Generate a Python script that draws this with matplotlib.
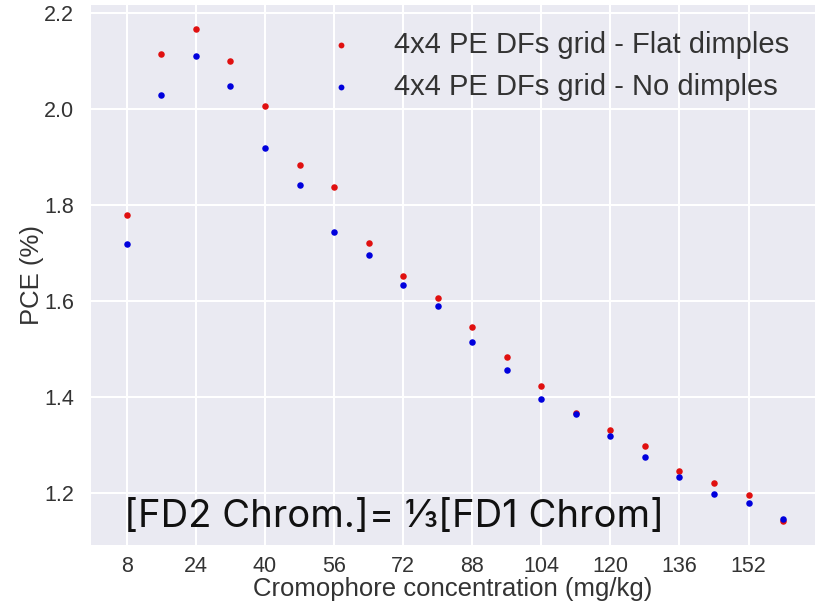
import matplotlib
matplotlib.use("Agg")
import matplotlib.pyplot as plt
from matplotlib import font_manager

conc = [8, 16, 24, 32, 40, 48, 56, 64, 72, 80, 88, 96, 104, 112, 120, 128, 136, 144, 152, 160]
flat_dimples = [1.779, 2.115, 2.167, 2.100, 2.006, 1.883, 1.837, 1.721, 1.652, 1.606,
                1.546, 1.483, 1.423, 1.367, 1.331, 1.298, 1.246, 1.221, 1.196, 1.142]
no_dimples = [1.719, 2.029, 2.110, 2.048, 1.919, 1.842, 1.744, 1.696, 1.633, 1.590,
              1.515, 1.456, 1.396, 1.365, 1.319, 1.275, 1.233, 1.198, 1.179, 1.146]
xticks = [8, 24, 40, 56, 72, 88, 104, 120, 136, 152]
yticks = [1.2, 1.4, 1.6, 1.8, 2.0, 2.2]
label_flat = "4x4 PE DFs grid - Flat dimples"
label_no = "4x4 PE DFs grid - No dimples"
annotation = "[FD2 Chrom.]= \u2153[FD1 Chrom]"

plt.rcParams['font.family'] = ['Liberation Sans', 'DejaVu Sans']

names = {f.name for f in font_manager.fontManager.ttflist}
tick_family = ['Liberation Sans Narrow', 'Liberation Sans'] if 'Liberation Sans Narrow' in names else ['Liberation Sans']
tick_size = 16.5 if 'Liberation Sans Narrow' in names else 15.5

fig = plt.figure(figsize=(8.15, 6.07), dpi=100)
ax = fig.add_axes([91/815, 62/607, 1 - 91/815, (545 - 5)/607])
ax.set_facecolor('#EAEAF2')
for s in ax.spines.values():
    s.set_visible(False)
ax.grid(True, color='white', linewidth=1.5)
ax.set_axisbelow(True)

ax.scatter(conc, flat_dimples, s=22, color='#e01010', label=label_flat, zorder=3, linewidths=0)
ax.scatter(conc, no_dimples, s=22, color='#0000dd', label=label_no, zorder=3, linewidths=0)

ax.set_xlim(-0.3, 167.4)
ax.set_ylim(1.092, 2.217)
ax.set_xticks(xticks)
ax.set_xticklabels([str(t) for t in xticks])
ax.set_yticks(yticks)
ax.set_yticklabels([f"{t:.1f}" for t in yticks])
ax.tick_params(axis='both', length=0, labelcolor='#333333')
ax.tick_params(axis='x', pad=8)
ax.tick_params(axis='y', pad=12)
for lab in ax.get_xticklabels() + ax.get_yticklabels():
    lab.set_family(tick_family)
    lab.set_fontsize(tick_size)
ax.set_xlabel("Cromophore concentration (mg/kg)", fontsize=18.5, color='#333333', labelpad=0)
ax.set_ylabel("PCE (%)", fontsize=18.5, color='#333333', labelpad=0)

leg = ax.legend(loc='upper right', fontsize=21, frameon=False, markerscale=0.9,
                handletextpad=0.8, borderaxespad=0.3, labelspacing=0.48,
                bbox_to_anchor=(0.992, 0.99))
for t in leg.get_texts():
    t.set_color('#333333')

ax.text(7.3, 1.129, annotation, fontsize=27.5, color='#111111', va='baseline', ha='left',
        family=['Inter', 'DejaVu Sans'], zorder=4)

fig.savefig("out.png", dpi=100)
